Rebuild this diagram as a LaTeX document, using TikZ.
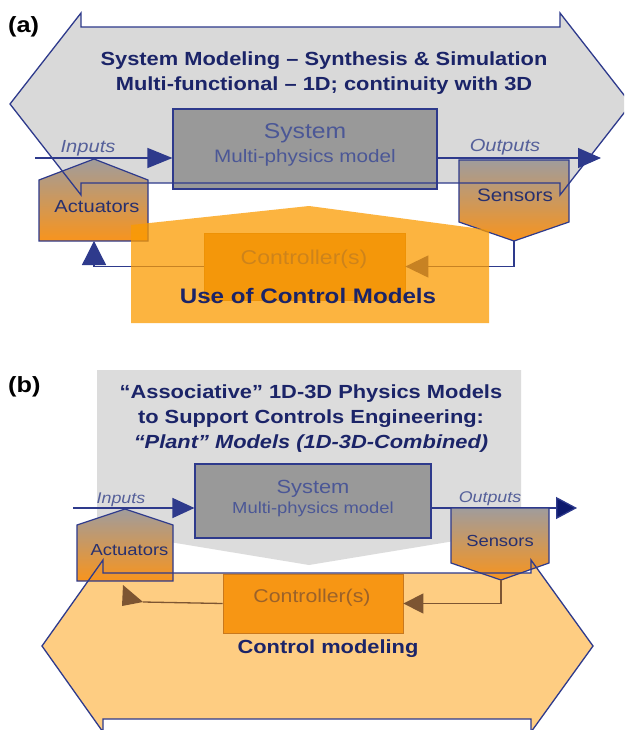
\documentclass[tikz,border=0pt]{standalone}
\usepackage{fontspec}
\setmainfont{Liberation Sans}[FakeStretch=1.15]
\usetikzlibrary{arrows.meta}
\definecolor{navy}{RGB}{46,58,140}
\definecolor{dnavy}{RGB}{27,36,104}
\definecolor{onavy}{RGB}{14,26,110}
\definecolor{graya}{RGB}{217,217,217}
\definecolor{grayb}{RGB}{220,220,220}
\definecolor{sysgray}{RGB}{153,153,153}
\definecolor{systext}{RGB}{75,87,150}
\definecolor{lbltext}{RGB}{85,96,154}
\definecolor{acttext}{RGB}{40,48,110}
\definecolor{shtop}{RGB}{160,156,156}
\definecolor{shmid}{RGB}{215,142,95}
\definecolor{shbot}{RGB}{248,148,29}
\definecolor{panela}{RGB}{251,155,0}
\definecolor{ctrla}{RGB}{227,143,40}
\definecolor{ctrlatext}{RGB}{70,62,110}
\definecolor{ctrlaline}{RGB}{200,120,20}
\definecolor{orangeb}{RGB}{254,205,130}
\definecolor{ctrlb}{RGB}{247,150,20}
\definecolor{ctrlbline}{RGB}{200,120,30}
\definecolor{ctrlbtext}{RGB}{155,98,42}
\definecolor{brownl}{RGB}{125,85,50}
\newcommand\fsz[1]{\fontsize{#1}{#1}\selectfont}
\begin{document}
\begin{tikzpicture}[x=1pt,y=-1pt,
  txt/.style={inner sep=0pt, anchor=base},
  nvline/.style={draw=navy, line width=1.3pt},
  outl/.style={draw=navy, line width=1.3pt, line join=miter},
  sysbox/.style={draw=navy, line width=1.1pt, fill=sysgray, inner sep=0pt},
  actshade/.style={top color=shtop, middle color=shmid, bottom color=shbot, draw=navy, line width=1.2pt},
  brline/.style={draw=brownl, line width=1.3pt},
  ttl/.style={txt, text=dnavy, font=\fsz{19}\bfseries}]
\clip (0,0) rectangle (624,730);
\fill[white] (0,0) rectangle (624,730);

% ================= (a) =================
\node[txt, anchor=base west] (la) at (8,33) {\fsz{22}\bfseries (a)};
% gray double arrow fill
\fill[graya] (81,27) -- (81,13) -- (10,104) -- (81,195) -- (81,183) -- (560,183) -- (560,195) -- (631,104) -- (560,13) -- (560,27) -- cycle;
\node[ttl] (ta1) at (324,66) {System Modeling – Synthesis \& Simulation};
\node[ttl] (ta2) at (324,91) {Multi-functional – 1D; continuity with 3D};
% system box
\node[sysbox, minimum width=264pt, minimum height=80pt] (sysa) at (305,149) {};
\node[txt, text=systext] (sysat) at (305,139) {\fsz{21.5}System};
\node[txt, text=systext] (sysam) at (305,163) {\fsz{18}Multi-physics model};
% inputs / outputs
\coordinate (ina) at (35,158);
\coordinate (outa) at (601,158);
\draw[nvline, -{Triangle[length=25pt,width=20pt]}] (ina) -- (ina -| sysa.west);
\draw[nvline, -{Triangle[length=23pt,width=20pt]}] (sysa.east |- outa) -- (outa);
\node[txt, text=lbltext] (inla) at (88,153) {\fsz{17.5}\itshape Inputs};
\node[txt, text=lbltext] (outla) at (505,152) {\fsz{17.5}\itshape Outputs};
% actuators / sensors
\shadedraw[actshade] (39,180) -- (94,159) -- (148,180) -- (148,241) -- (39,241) -- cycle;
\coordinate (acta) at (94,241);
\node[txt, text=acttext] (actat) at (97,212) {\fsz{17.5}Actuators};
\shadedraw[actshade] (459,160) -- (569,160) -- (569,222) -- (514,241) -- (459,222) -- cycle;
\coordinate (sena) at (514,241);
\node[txt, text=acttext] (senat) at (515,201) {\fsz{18}Sensors};
% gray arrow outline on top
\draw[outl] (81,27) -- (81,13) -- (10,104) -- (81,195) -- (81,183) -- (560,183) -- (560,195) -- (631,104) -- (560,13) -- (560,27) -- cycle;
% controller and loop
\node[draw=ctrlaline, line width=0.8pt, fill=ctrla, minimum width=201pt, minimum height=67pt, inner sep=0pt] (ctrla) at (304.5,266.5) {};
\node[txt, text=ctrlatext] (ctrlat) at (304,264) {\fsz{20}Controller(s)};
\draw[nvline, -{Triangle[length=23pt,width=22pt]}] (sena) |- (ctrla.east);
\draw[nvline, -{Triangle[length=24pt,width=24pt]}] (ctrla.west) -| (acta);
% translucent control panel
\fill[panela, fill opacity=0.75] (131,323) -- (131,225) -- (309,206) -- (489,230) -- (489,323) -- cycle;
\node[txt, text=dnavy] (usea) at (308,303) {\fsz{21}\bfseries Use of Control Models};

% ================= (b) =================
\node[txt, anchor=base west] (lb) at (8,392) {\fsz{22}\bfseries (b)};
\fill[grayb] (97,370) -- (521,370) -- (521,530) -- (309,565) -- (97,530) -- cycle;
\node[ttl] (tb1) at (311,398) {“Associative” 1D-3D Physics Models};
\node[ttl] (tb2) at (311,423) {to Support Controls Engineering:};
\node[ttl] (tb3) at (311,448) {\itshape “Plant” Models (1D-3D-Combined)};
% system box
\node[sysbox, minimum width=236pt, minimum height=74pt] (sysb) at (313,501) {};
\node[txt, text=systext] (sysbt) at (313,493) {\fsz{19}System};
\node[txt, text=systext] (sysbm) at (313,513) {\fsz{16}Multi-physics model};
% inputs / outputs
\coordinate (inb) at (73,508);
\coordinate (outb) at (577,508);
\draw[nvline, -{Triangle[length=22pt,width=20pt]}] (inb) -- (inb -| sysb.west);
\draw[nvline, -{Triangle[length=21pt,width=22pt,fill=onavy]}] (sysb.east |- outb) -- (outb);
\node[txt, text=lbltext] (inlb) at (121,503) {\fsz{15.5}\itshape Inputs};
\node[txt, text=lbltext] (outlb) at (490,502) {\fsz{15.5}\itshape Outputs};
% orange double arrow fill
\fill[orangeb] (103,573) -- (103,560) -- (42,646) -- (103,732) -- (103,719) -- (531,719) -- (531,732) -- (593,646) -- (531,560) -- (531,573) -- cycle;
% actuators / sensors
\shadedraw[actshade] (77,525) -- (125,509) -- (173,525) -- (173,581) -- (77,581) -- cycle;
\node[txt, text=acttext] (actbt) at (129.5,555) {\fsz{16}Actuators};
\shadedraw[actshade] (451,508) -- (549,508) -- (549,563) -- (501,580) -- (451,563) -- cycle;
\coordinate (senb) at (501,580);
\node[txt, text=acttext] (senbt) at (500,546) {\fsz{16}Sensors};
% controller and loop
\node[draw=ctrlbline, line width=0.8pt, fill=ctrlb, minimum width=180pt, minimum height=59pt, inner sep=0pt] (ctrlb) at (313,603.5) {};
\node[txt, text=ctrlbtext] (ctrlbt) at (312,602) {\fsz{18.5}Controller(s)};
\draw[brline, -{Triangle[length=20pt,width=20pt]}] (senb) |- (ctrlb.east);
\coordinate (fbb) at (143,602);
\draw[brline] (ctrlb.west) -- (fbb);
\fill[brownl] (fbb) -- (123,585) -- (122,606) -- cycle;
% orange arrow outline on top
\draw[outl] (103,573) -- (103,560) -- (42,646) -- (103,732) -- (103,719) -- (531,719) -- (531,732) -- (593,646) -- (531,560) -- (531,573) -- cycle;
\node[txt, text=dnavy] (cmod) at (328,653) {\fsz{19}\bfseries Control modeling};
\end{tikzpicture}
\end{document}
